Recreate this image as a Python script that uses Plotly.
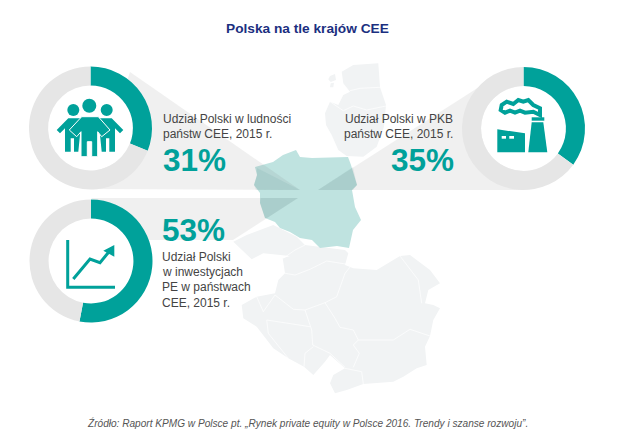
"""Polska na tle krajow CEE: three share donuts over a pale map of the region."""

import plotly.graph_objects as go

# Data
METRICS = ["Ludność", "PKB", "Inwestycje PE"]
SHARES = [31, 35, 53]
TITLE = "Polska na tle krajów CEE"
SOURCE = "Źródło: Raport KPMG w Polsce pt. „Rynek private equity w Polsce 2016. Trendy i szanse rozwoju”."
LABEL_POPULATION = ["Udział Polski w ludności", "państw CEE, 2015 r."]
LABEL_GDP = ["Udział Polski w PKB", "państw CEE, 2015 r."]
LABEL_PE = ["Udział Polski", "w inwestycjach", "PE w państwach", "CEE, 2015 r."]

TEAL = "#00a19a"
RING = "#e6e6e6"
MAP = "#f1f3f4"
POLAND = "#bfe3e0"
TEXT = "#444444"
NAVY = "#1b2f80"
FONT = "Liberation Sans"
WIDTH, HEIGHT = 640, 443
# The page body has an 8px margin, so the figure is smaller and its axes start there
BODY = 8

# Donut centres and outer radius, in page pixels
CENTERS = [(90.5, 128), (523.5, 128.5), (91, 261)]
RADIUS = 61.5
HOLE = 0.69


def zoomed(points, x0, y0):
    """Outlines were traced on 3x crops, bring them back to page pixels."""
    return [(x0 + x / 3, y0 + y / 3) for x, y in points]


def south(points):
    return zoomed(points, 230, 230)


def baltic(points):
    return zoomed(points, 310, 50)


POLAND_OUTLINE = [
    (255, 167), (273, 162), (283, 155), (296, 150), (300, 157), (312, 158), (348, 157),
    (351, 165), (357, 185), (352, 190), (355, 207), (361, 220), (353, 230), (349, 248),
    (337, 246), (320, 248), (312, 240), (300, 238), (290, 232), (280, 228), (275, 222),
    (265, 218), (260, 203), (260, 193), (254, 185), (257, 175),
]

BALTIC_AREAS = [
    baltic(o)
    for o in [
        [(95, 65), (130, 45), (205, 40), (210, 112), (228, 165), (222, 230), (200, 290), (160, 320),
         (110, 318), (85, 300), (65, 255), (48, 225), (45, 190), (60, 155), (85, 165), (100, 135),
         (120, 125), (100, 100)],
        [(60, 78), (75, 72), (78, 90), (62, 96), (55, 88)],
        [(62, 100), (72, 98), (70, 112), (60, 112)],
    ]
]
BALTIC_BORDERS = [
    baltic(o)
    for o in [
        [(120, 122), (150, 115), (210, 112)],
        [(60, 155), (100, 182), (130, 168), (170, 180), (228, 168)],
    ]
]

SOUTH_AREA = south(
    [(10, 35), (50, 15), (130, -15), (200, 20), (225, 45), (345, 60), (355, 70), (345, 105), (370, 115),
     (440, 120), (490, 90), (510, 78), (540, 75), (600, 120), (630, 160), (595, 180), (585, 220),
     (610, 225), (630, 235), (610, 270), (600, 318), (585, 350), (590, 405), (560, 415), (520, 440),
     (490, 455), (400, 462), (350, 480), (315, 490), (300, 460), (310, 435), (345, 415), (300, 375),
     (285, 395), (250, 435), (222, 410), (175, 385), (130, 355), (80, 290), (40, 265), (35, 225),
     (80, 200), (135, 190), (145, 150), (165, 130), (158, 85), (180, 78), (100, 70), (65, 88)]
)
SOUTH_BORDERS = [
    south(o)
    for o in [
        [(225, 45), (195, 60), (160, 85)],
        [(165, 130), (195, 135), (240, 118), (290, 93), (365, 105)],
        [(135, 195), (190, 238), (225, 240), (285, 218), (320, 200), (345, 130), (365, 105)],
        [(285, 218), (315, 265), (330, 292), (370, 300), (385, 330), (490, 330), (540, 298), (600, 318)],
        [(510, 78), (565, 150), (575, 220)],
        [(225, 240), (245, 300), (248, 345), (300, 370), (345, 412)],
        [(385, 330), (370, 345), (388, 370), (370, 412)],
        [(345, 415), (395, 425), (400, 462)],
        [(240, 290), (110, 270), (115, 310), (175, 385)],
        [(80, 200), (100, 245), (135, 195)],
        [(250, 350), (225, 370), (222, 410)],
    ]
]

# Pale beams running from each donut into Poland
BEAMS = [
    [(90, 189), (300, 190), (130, 72)],
    [(523, 190), (318, 190), (490, 80), (523, 67)],
    [(91, 198), (298, 198), (233, 240), (140, 240)],
]
# Where a beam crosses Poland it reads darker than plain transparency gives
BEAM_OVER_POLAND = [
    [(257, 168), (300, 190), (256, 190), (254, 185), (257, 175)],
    [(318, 190), (353, 167), (357, 185), (353, 190)],
    [(261, 198), (298, 198), (267, 218), (265, 218), (260, 203)],
]

PEOPLE_MIDDLE = zoomed(
    [(95, 65), (145, 65), (180, 105), (155, 125), (143, 110), (143, 185), (125, 185), (125, 140),
     (112, 140), (112, 185), (93, 185), (93, 110), (80, 125), (58, 105)],
    50, 95,
)
PEOPLE_LEFT = zoomed(
    [(55, 70), (90, 70), (90, 120), (85, 170), (72, 170), (72, 130), (62, 130), (62, 170), (45, 170),
     (45, 100), (30, 115), (20, 105)],
    50, 95,
)
PEOPLE_RIGHT = zoomed(
    [(185, 70), (150, 70), (150, 120), (155, 170), (168, 170), (168, 130), (178, 130), (178, 170),
     (195, 170), (195, 100), (210, 115), (220, 105)],
    50, 95,
)
FACTORY_HALL = zoomed([(22, 118), (105, 130), (105, 187), (22, 187)], 490, 90)
FACTORY_STACK = zoomed([(125, 97), (160, 97), (172, 187), (115, 187)], 490, 90)
FACTORY_CAP = zoomed([(125, 82), (163, 82), (163, 92), (125, 92)], 490, 90)
FACTORY_WINDOWS = [
    zoomed([(35, 138), (48, 138), (48, 146), (35, 146)], 490, 90),
    zoomed([(58, 138), (72, 138), (72, 146), (58, 146)], 490, 90),
]
SMOKE = zoomed(
    [(150, 75), (150, 55), (130, 45), (115, 30), (100, 35), (85, 30), (70, 42), (50, 35), (35, 45),
     (32, 60), (45, 68), (60, 62), (75, 68), (90, 62), (105, 68), (130, 65)],
    490, 90,
)
GRAPH_AXES = zoomed([(38, 30), (38, 172), (180, 172)], 55, 230)
GRAPH_LINE = zoomed([(55, 147), (105, 87), (135, 98), (162, 65)], 55, 230)
GRAPH_HEAD = zoomed([(178, 45), (178, 80), (145, 62)], 55, 230)


def path(points, closed=True):
    body = " L ".join(f"{x:.1f} {y:.1f}" for x, y in points)
    return f"M {body}" + (" Z" if closed else "")


def polygon(points, fill, line_color=None, line_width=0):
    return dict(
        type="path",
        path=path(points),
        fillcolor=fill,
        line=dict(color=line_color or fill, width=line_width),
        layer="below",
    )


def stroke(points, color, width, closed=False):
    return dict(
        type="path",
        path=path(points, closed),
        line=dict(color=color, width=width),
        layer="below",
    )


def disc(cx, cy, r, fill):
    return dict(
        type="circle", x0=cx - r, x1=cx + r, y0=cy - r, y1=cy + r,
        fillcolor=fill, line=dict(width=0), layer="below",
    )


def text(x, y, value, size, color=TEXT, anchor="left", bold=False, italic=False):
    if bold:
        value = f"<b>{value}</b>"
    if italic:
        value = f"<i>{value}</i>"
    # Annotations carry about 2px of padding, take it back on the anchored side
    nudge = {"left": -2, "right": 2, "center": 0}[anchor]
    return dict(
        x=x, y=y, xref="x", yref="y", xshift=nudge, text=value, showarrow=False,
        xanchor=anchor, yanchor="middle", align=anchor,
        font=dict(family=FONT, size=size, color=color),
    )


plot_w, plot_h = WIDTH - BODY, HEIGHT - BODY

fig = go.Figure()

# Keeps the pixel axes alive, the pies alone would not create them
fig.add_trace(go.Scatter(x=[100], y=[100], mode="markers", marker=dict(opacity=0), hoverinfo="skip", showlegend=False))

for name, share, (cx, cy) in zip(METRICS, SHARES, CENTERS):
    fig.add_trace(
        go.Pie(
            values=[share, 100 - share],
            labels=[name, "Pozostałe"],
            hole=HOLE,
            sort=False,
            direction="clockwise",
            rotation=0,
            textinfo="none",
            marker=dict(colors=[TEAL, RING], line=dict(width=0)),
            domain=dict(
                x=[(cx - RADIUS - BODY) / plot_w, (cx + RADIUS - BODY) / plot_w],
                y=[1 - (cy + RADIUS - BODY) / plot_h, 1 - (cy - RADIUS - BODY) / plot_h],
            ),
            showlegend=False,
        )
    )

shapes = []
for outline in BALTIC_AREAS + [SOUTH_AREA]:
    shapes.append(polygon(outline, MAP))
for border in BALTIC_BORDERS + SOUTH_BORDERS:
    shapes.append(stroke(border, "rgba(255,255,255,0.85)", 0.8))
shapes.append(polygon(POLAND_OUTLINE, POLAND))
for beam in BEAMS:
    shapes.append(polygon(beam, "rgba(110,110,110,0.10)"))
for overlap in BEAM_OVER_POLAND:
    shapes.append(polygon(overlap, "rgba(40,110,110,0.08)"))
for cx, cy in CENTERS:
    shapes.append(disc(cx, cy, RADIUS * HOLE, "#ffffff"))

# People icon
shapes.append(disc(73.3, 110, 6, TEAL))
shapes.append(disc(106.7, 110, 6, TEAL))
shapes.append(polygon(PEOPLE_LEFT, TEAL))
shapes.append(polygon(PEOPLE_RIGHT, TEAL))
shapes.append(disc(89.3, 105.7, 7, TEAL))
shapes.append(polygon(PEOPLE_MIDDLE, TEAL, "#ffffff", 1))

# Factory icon
shapes.append(polygon(FACTORY_HALL, TEAL))
shapes.append(polygon(FACTORY_STACK, TEAL))
shapes.append(polygon(FACTORY_CAP, TEAL))
for window in FACTORY_WINDOWS:
    shapes.append(polygon(window, "#ffffff"))
shapes.append(stroke(SMOKE, TEAL, 4, closed=True))

# Growth icon
shapes.append(stroke(GRAPH_AXES, TEAL, 3))
shapes.append(stroke(GRAPH_LINE, TEAL, 3))
shapes.append(polygon(GRAPH_HEAD, TEAL))

annotations = [
    text(307, 28, TITLE, 13.7, NAVY, "center", bold=True),
    text(307, 423, SOURCE, 10.1, "#555555", "center", italic=True),
    text(163, 160, f"{SHARES[0]}%", 31.5, TEAL, bold=True),
    text(454, 160, f"{SHARES[1]}%", 31.5, TEAL, "right", bold=True),
    text(162, 230, f"{SHARES[2]}%", 31.5, TEAL, bold=True),
]
for line, y in zip(LABEL_POPULATION, [119, 134]):
    annotations.append(text(163, y, line, 12))
for line, y in zip(LABEL_GDP, [119, 134]):
    annotations.append(text(453, y, line, 12, anchor="right"))
for line, y in zip(LABEL_PE, [257, 272, 287, 303]):
    annotations.append(text(162, y, line, 12))

fig.update_layout(
    width=plot_w,
    height=plot_h,
    margin=dict(l=0, r=0, t=0, b=0),
    paper_bgcolor="white",
    plot_bgcolor="rgba(0,0,0,0)",
    xaxis=dict(visible=False, range=[BODY, WIDTH], fixedrange=True),
    yaxis=dict(visible=False, range=[HEIGHT, BODY], fixedrange=True),
    shapes=shapes,
    annotations=annotations,
    showlegend=False,
)

fig.write_html("out.html")
